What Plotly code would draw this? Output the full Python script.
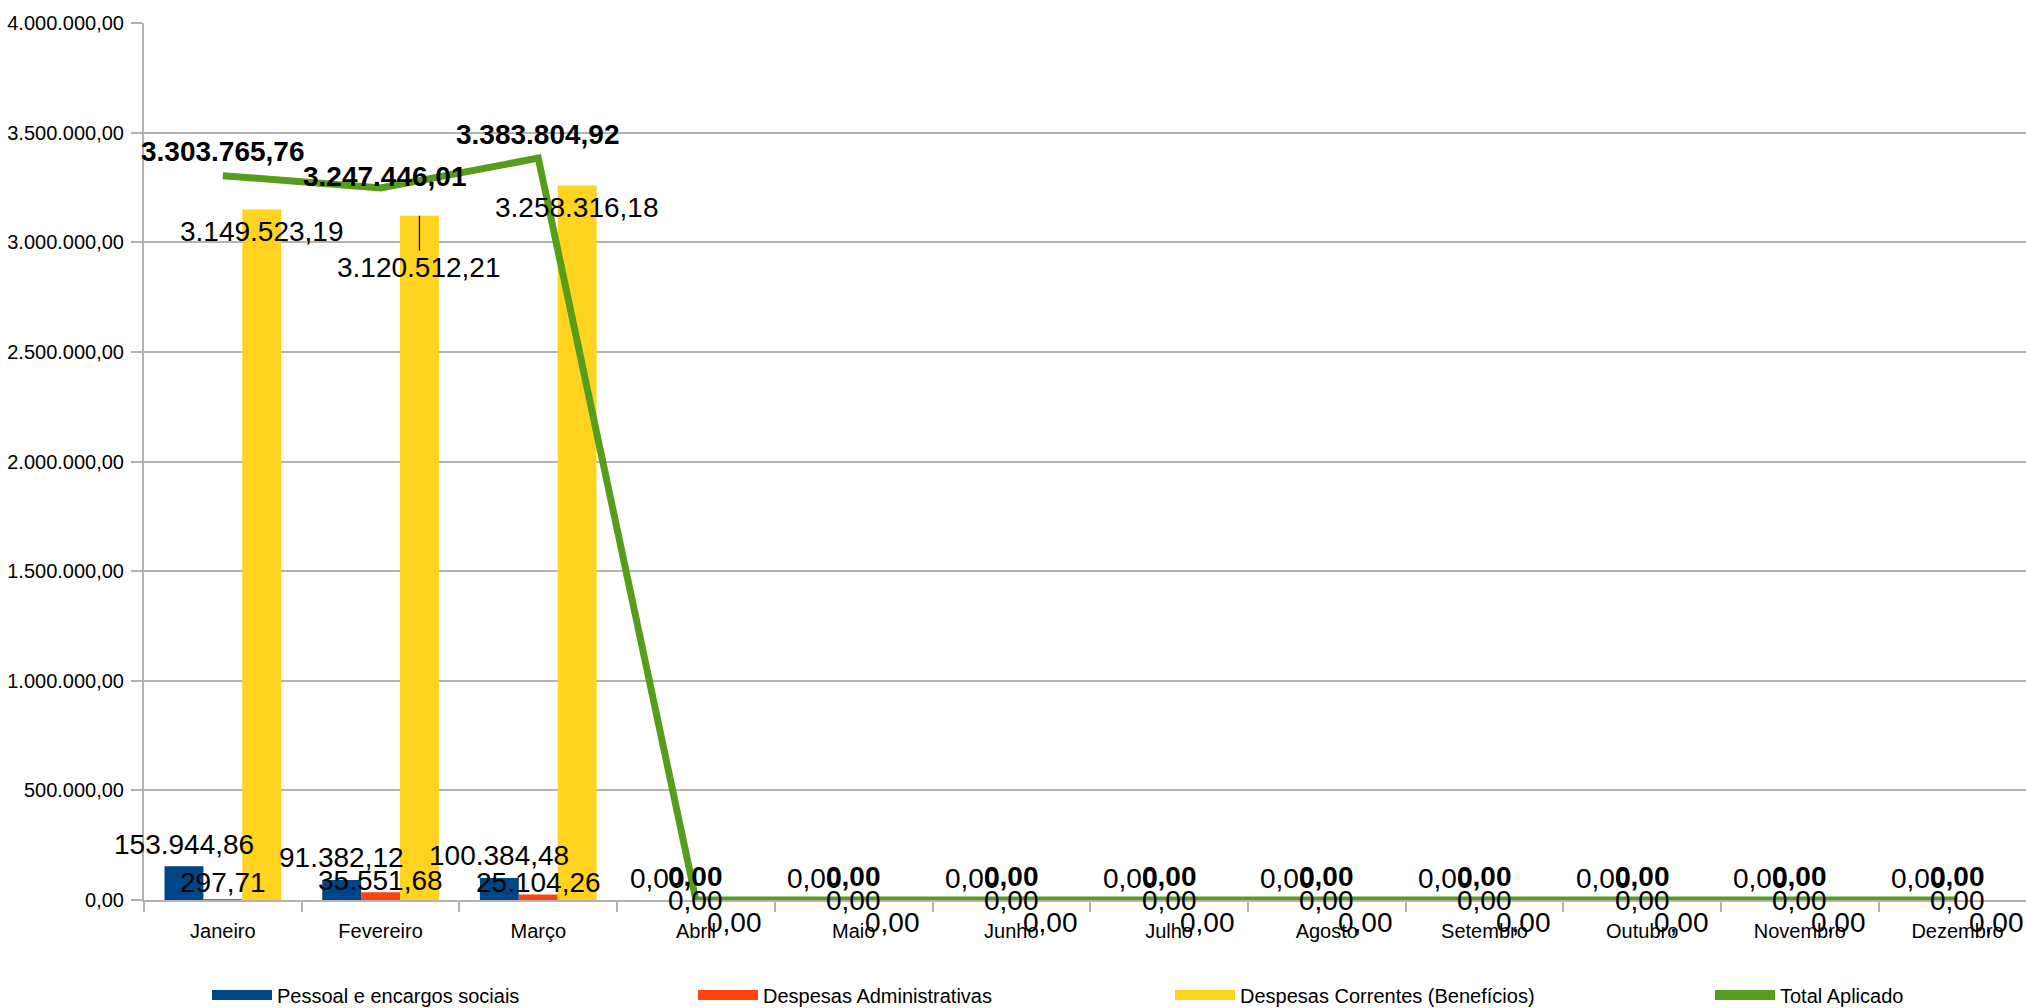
import plotly.graph_objects as go

# ---------------- data ----------------
months = ["Janeiro", "Fevereiro", "Março", "Abril", "Maio", "Junho", "Julho",
          "Agosto", "Setembro", "Outubro", "Novembro", "Dezembro"]
pessoal = [153944.86, 91382.12, 100384.48, 0, 0, 0, 0, 0, 0, 0, 0, 0]
administrativas = [297.71, 35551.68, 25104.26, 0, 0, 0, 0, 0, 0, 0, 0, 0]
correntes = [3149523.19, 3120512.21, 3258316.18, 0, 0, 0, 0, 0, 0, 0, 0, 0]
total = [3303765.76, 3247446.01, 3383804.92, 0, 0, 0, 0, 0, 0, 0, 0, 0]
y_ticks = [0, 500000, 1000000, 1500000, 2000000, 2500000, 3000000, 3500000, 4000000]
names = ["Pessoal e encargos sociais", "Despesas Administrativas",
         "Despesas Correntes (Benefícios)", "Total Aplicado"]

# ---------------- style ----------------
colors = ["#004586", "#ff420e", "#ffd320", "#579d1c"]
FONT = "Liberation Sans, Arial, sans-serif"
GRID = "#b3b3b3"
BARGAP = 0.26
bar_w = (1 - BARGAP) / 3
x = list(range(len(months)))

# label placement (pixel shifts, style only)
bar_offsets = [-bar_w, 0.0, bar_w]
pessoal_shift = [22] * 12
admin_shift = [17, 12, 12] + [0] * 9
correntes_shift = [-22] * 12
label_shifts = [pessoal_shift, admin_shift, correntes_shift]
total_yshift = 24


def br(v):
    s = f"{v:,.2f}"
    return s.replace(",", "X").replace(".", ",").replace("X", ".")


fig = go.Figure()
bar_series = [pessoal, administrativas, correntes]
for k, vals in enumerate(bar_series):
    fig.add_trace(go.Bar(x=x, y=vals, name=names[k], marker_color=colors[k],
                         marker_line_width=0, showlegend=False))
fig.add_trace(go.Scatter(x=x, y=total, name=names[3], mode="lines",
                         line=dict(color=colors[3], width=7), showlegend=False))

# legend entries (one legend per item, spread like the original)
legend_ids = ["legend", "legend2", "legend3", "legend4"]
for k in range(4):
    fig.add_trace(go.Scatter(x=[None], y=[None], mode="lines", name=names[k],
                             line=dict(color=colors[k], width=12),
                             legend=legend_ids[k], showlegend=True))

# ---------------- data labels ----------------
ann = []
label_font = dict(family=FONT, size=28, color="#000000")
for k, vals in enumerate(bar_series):
    for i, v in enumerate(vals):
        a = dict(x=i + bar_offsets[k], y=v, xref="x", yref="y", text=br(v),
                 font=label_font, showarrow=False, yshift=label_shifts[k][i])
        if k == 2 and i == 1:
            a.update(showarrow=True, arrowhead=0, arrowwidth=1.2,
                     arrowcolor="#000000", ax=0, ay=52, yshift=0, standoff=0)
        ann.append(a)
for i, v in enumerate(total):
    a = dict(x=i, y=v, xref="x", yref="y", text="<b>" + br(v) + "</b>",
             font=label_font, showarrow=False, yshift=total_yshift)
    if i == 1:
        a.update(yshift=12, xshift=4)
    ann.append(a)

PLOT_L, PLOT_T, PLOT_B = 144, 23, 900
W, H = 2026, 1008
cat_px = 157.7
x_max = -0.5 + (W - PLOT_L) / cat_px


def lx(px):
    return (px - PLOT_L) / (W - PLOT_L)


ITEMW = 60
ly = (PLOT_B - 995) / (PLOT_B - PLOT_T)
legend_text_px = [278, 764, 1241, 1781]
legends = {}
for k, lid in enumerate(legend_ids):
    legends[lid] = dict(orientation="h", x=lx(legend_text_px[k] - (ITEMW + 11)), y=ly,
                        xanchor="left", yanchor="middle", itemwidth=ITEMW,
                        font=dict(family=FONT, size=20, color="#000000"),
                        bgcolor="rgba(0,0,0,0)", borderwidth=0)

fig.update_layout(
    width=W, height=H,
    margin=dict(l=PLOT_L, r=0, t=PLOT_T, b=H - PLOT_B, pad=0, autoexpand=False),
    paper_bgcolor="white", plot_bgcolor="white",
    barmode="group", bargap=BARGAP, bargroupgap=0,
    separators=",.",
    font=dict(family=FONT, size=20, color="#000000"),
    annotations=ann,
    **legends,
)
fig.update_xaxes(
    range=[-0.5, x_max], tickmode="array", tickvals=x, ticktext=months,
    ticks="", showgrid=False, zeroline=False, automargin=False,
    showline=True, linecolor=GRID, linewidth=2,
    tickfont=dict(family=FONT, size=20, color="#000000"),
    ticklabelstandoff=12,
    minor=dict(tickmode="array", tickvals=[i - 0.5 for i in range(len(months) + 1)],
               ticks="outside", ticklen=10, tickcolor=GRID, tickwidth=2, showgrid=False),
)
fig.update_yaxes(
    range=[0, 4000000], tickmode="array", tickvals=y_ticks, tickformat=",.2f",
    showgrid=True, gridcolor=GRID, gridwidth=2, zeroline=False, automargin=False,
    showline=True, linecolor=GRID, linewidth=2,
    ticks="outside", ticklen=11, tickcolor=GRID, tickwidth=2,
    ticklabelstandoff=3,
    tickfont=dict(family=FONT, size=20, color="#000000"),
)

fig.write_html(
    "out.html",
    config={"displayModeBar": False},
    post_script="document.body.style.margin='0';document.body.style.overflow='hidden';",
)
